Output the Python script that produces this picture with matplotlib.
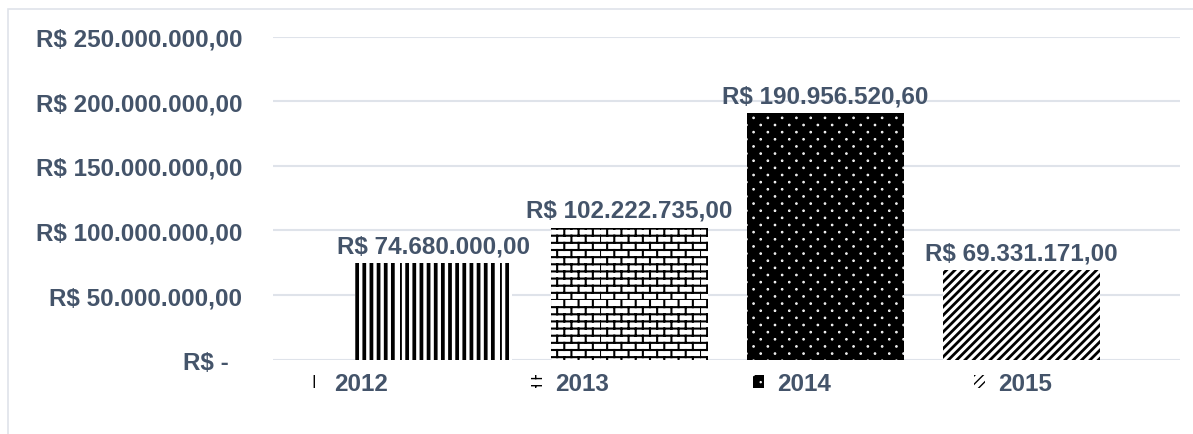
import warnings

import matplotlib

matplotlib.use("Agg")
import matplotlib.pyplot as plt
import numpy as np
from matplotlib import hatch as mhatch
from matplotlib.patches import Rectangle
from matplotlib.path import Path
from matplotlib.ticker import FuncFormatter, MultipleLocator

warnings.filterwarnings("ignore")

years = ["2012", "2013", "2014", "2015"]
values = [74680000.00, 102222735.00, 190956520.60, 69331171.00]

TEXT = "#44546A"
GRID = "#DFE3EA"


class VerticalDense(mhatch.HatchPatternBase):
    lines = 14

    def __init__(self, hatch, density):
        self.num_vertices = self.lines * 2 if "V" in hatch else 0

    def set_vertices_and_codes(self, vertices, codes):
        for i in range(self.lines):
            x = i / self.lines
            vertices[2 * i] = (x, 0.0)
            vertices[2 * i + 1] = (x, 1.0)
            codes[2 * i] = Path.MOVETO
            codes[2 * i + 1] = Path.LINETO


class DiagDense(mhatch.HatchPatternBase):
    lines = 12

    def __init__(self, hatch, density):
        self.num_vertices = (2 * self.lines + 1) * 2 if "G" in hatch else 0

    def set_vertices_and_codes(self, vertices, codes):
        for k, i in enumerate(range(-self.lines, self.lines + 1)):
            c = i / self.lines
            vertices[2 * k] = (c, 0.0)
            vertices[2 * k + 1] = (c + 1.0, 1.0)
            codes[2 * k] = Path.MOVETO
            codes[2 * k + 1] = Path.LINETO


class BrickHatch(mhatch.HatchPatternBase):
    rows = 14
    cols = 7

    def __init__(self, hatch, density):
        self.num_vertices = self.rows * (2 + 2 * self.cols) if "B" in hatch else 0

    def set_vertices_and_codes(self, vertices, codes):
        k = 0
        h = 1.0 / self.rows
        for i in range(self.rows):
            y = i * h
            vertices[k] = (0.0, y)
            vertices[k + 1] = (1.0, y)
            codes[k] = Path.MOVETO
            codes[k + 1] = Path.LINETO
            k += 2
            shift = 0.5 / self.cols if i % 2 else 0.0
            for j in range(self.cols):
                x = j / self.cols + shift
                vertices[k] = (x, y)
                vertices[k + 1] = (x, y + h)
                codes[k] = Path.MOVETO
                codes[k + 1] = Path.LINETO
                k += 2


class DotHatch(mhatch.HatchPatternBase):
    rows = 14
    cols = 7
    radius = 0.005

    def __init__(self, hatch, density):
        circ = Path.unit_circle()
        self.cv = circ.vertices
        self.cc = circ.codes
        self.num_vertices = self.rows * self.cols * len(self.cv) if "D" in hatch else 0

    def set_vertices_and_codes(self, vertices, codes):
        n = len(self.cv)
        k = 0
        for i in range(self.rows):
            shift = 0.5 / self.cols if i % 2 else 0.0
            y = (i + 0.5) / self.rows
            for j in range(self.cols):
                x = j / self.cols + shift + 0.25 / self.cols
                vertices[k:k + n] = self.cv * self.radius + (x, y)
                codes[k:k + n] = self.cc
                k += n


mhatch._hatch_types.extend([VerticalDense, DiagDense, BrickHatch, DotHatch])

styles = [
    dict(hatch="V", face="white", edge="black", hlw=2.7),
    dict(hatch="B", face="white", edge="black", hlw=1.5),
    dict(hatch="D", face="black", edge="white", hlw=1.2),
    dict(hatch="G", face="white", edge="black", hlw=2.0),
]


def brl(v):
    s = f"{v:,.2f}"
    return "R$ " + s.replace(",", "#").replace(".", ",").replace("#", ".")


def tick_fmt(v, pos):
    if abs(v) < 1:
        return "R$ -  "
    return brl(v)


plt.rcParams["font.family"] = ["Liberation Sans", "DejaVu Sans"]
plt.rcParams["font.weight"] = "bold"
FS = 17.5

fig = plt.figure(figsize=(11.93, 4.35), dpi=100)
ax = fig.add_axes([273 / 1193, 1 - 360.7 / 435, 907 / 1193, (360.7 - 37.5) / 435])

fig.patches.append(Rectangle((8 / 1193, -0.05), 1.1, 1 - 10 / 435 + 0.05, transform=fig.transFigure,
                             fill=False, edgecolor=GRID, linewidth=1.2, zorder=0))

x = np.arange(len(years))
bars = []
for xi, v, yr, st in zip(x, values, years, styles):
    with plt.rc_context({"hatch.linewidth": st["hlw"]}):
        b = ax.bar(xi, v, width=0.8, color=st["face"], edgecolor=st["edge"], linewidth=0,
                   hatch=st["hatch"], label=yr, zorder=2)[0]
    if hasattr(b, "set_hatch_linewidth"):
        b.set_hatch_linewidth(st["hlw"])
    bars.append(b)
    ax.annotate(brl(v), (xi, v), xytext=(0, 4), textcoords="offset points", ha="center", va="bottom",
                fontsize=FS, fontweight="bold", color=TEXT)

ax.set_xlim(-0.819, 3.809)
ax.set_ylim(0, 250000000)
ax.yaxis.set_major_locator(MultipleLocator(50000000))
ax.yaxis.set_major_formatter(FuncFormatter(tick_fmt))
ax.set_xticks([])
ax.tick_params(axis="y", length=0, pad=22, labelsize=FS, labelcolor=TEXT)
for lab in ax.get_yticklabels():
    lab.set_fontweight("bold")
ax.grid(axis="y", color=GRID, linewidth=1.5, zorder=0)
ax.set_axisbelow(True)
for sp in ax.spines.values():
    sp.set_visible(False)

leg = fig.legend(handles=bars, labels=years, loc="center", bbox_to_anchor=(681 / 1193, 1 - 385 / 435),
                 ncol=4, frameon=False, fontsize=FS, handlelength=0.45, handleheight=0.45,
                 handletextpad=0.55, columnspacing=5.9)
for t in leg.get_texts():
    t.set_color(TEXT)
    t.set_fontweight("bold")

fig.savefig("out.png", dpi=100)
